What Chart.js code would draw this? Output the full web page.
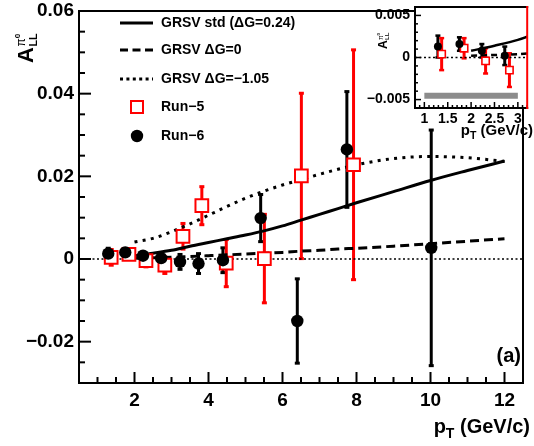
<!DOCTYPE html>
<html>
<head>
<meta charset="utf-8">
<script src="https://cdn.jsdelivr.net/npm/chart.js@4/dist/chart.umd.min.js"></script>
<style>
html,body{margin:0;padding:0;background:#fff;}
#wrap{position:relative;width:534px;height:446px;overflow:hidden;}
#main{position:absolute;left:0;top:0;}
#inset{position:absolute;left:340px;top:0;}
</style>
</head>
<body>
<div id="wrap">
<canvas id="main" width="534" height="446" style="width:534px;height:446px"></canvas>
<canvas id="inset" width="194" height="146" style="width:194px;height:146px"></canvas>
</div>
<script>
// ---------------- data ----------------
const run6Pt  = [1.29, 1.75, 2.23, 2.72, 3.23, 3.73, 4.39, 5.41, 6.40, 7.74, 10.02];
const run6ALL = [0.0013, 0.0016, 0.0008, 0.0002, -0.0007, -0.0011, -0.0003, 0.0099, -0.0150, 0.0265, 0.0027];
const run6Err = [0.0013, 0.0008, 0.0008, 0.0011, 0.0018, 0.0024, 0.0030, 0.0057, 0.0102, 0.0140, 0.0285];

const run5Pt  = [1.37, 1.85, 2.31, 2.82, 3.31, 3.82, 4.48, 5.51, 6.51, 7.92];
const run5ALL = [0.0004, 0.0011, -0.0004, -0.0015, 0.0055, 0.0129, -0.0010, 0.0001, 0.0201, 0.0228];
const run5Err = [0.0019, 0.0012, 0.0015, 0.0020, 0.0031, 0.0046, 0.0057, 0.0107, 0.0200, 0.0278];

const curvePt   = [2, 2.5, 3, 3.5, 4, 4.5, 5, 5.5, 6, 6.5, 7, 7.5, 8, 9, 10, 11, 12];
const stdALL    = [0.0008, 0.0014, 0.0021, 0.0031, 0.0040, 0.0049, 0.0058, 0.0068, 0.0080, 0.0094, 0.0108, 0.0122, 0.0136, 0.0163, 0.0190, 0.0214, 0.0237];
const dg0ALL    = [0.0002, 0.0003, 0.0004, 0.0006, 0.0008, 0.0010, 0.0012, 0.0014, 0.0016, 0.0019, 0.0021, 0.0024, 0.0026, 0.0031, 0.0037, 0.0043, 0.0049];
const dgNegALL  = [0.0041, 0.0050, 0.0066, 0.0085, 0.0106, 0.0127, 0.0147, 0.0164, 0.0179, 0.0192, 0.0205, 0.0217, 0.0228, 0.0243, 0.0248, 0.0245, 0.0236];

const zeroLinePt  = [0.5, 12.5];
const zeroLineALL = [0, 0];

const xMajorTicks = [2, 4, 6, 8, 10, 12];
const xTickLabels = ['2', '4', '6', '8', '10', '12'];
const yMajorTicks = [-0.02, 0, 0.02, 0.04, 0.06];
const yTickLabels = ['\u22120.02', '0', '0.02', '0.04', '0.06'];

const legendLabels = ['GRSV std (\u0394G=0.24)', 'GRSV \u0394G=0', 'GRSV \u0394G=\u22121.05', 'Run\u22125', 'Run\u22126'];

// inset
const insetPtMax     = 3;
const insetXMajor    = [1, 1.5, 2, 2.5, 3];
const insetXLabels   = ['1', '1.5', '2', '2.5', '3'];
const insetYMajor    = [-0.005, 0, 0.005];
const insetYLabels   = ['\u22120.005', '0', '0.005'];
const insetZeroPt    = [0.8, 3.2];
const insetZeroALL   = [0, 0];
const sysBandPt      = [1, 3];
const sysBandALL     = [-0.00455, -0.00455];

// ---------------- helpers ----------------
const FONT = "'Liberation Sans', Arial, Helvetica, sans-serif";
const pts = (xs, ys) => xs.map((x, i) => ({x: x, y: ys[i]}));
const idxBelow = (xs, lim) => xs.map((x, i) => i).filter(i => xs[i] < lim);
const pick = (arr, idx) => idx.map(i => arr[i]);
const labelFor = (majors, labels) => v => {
  const i = majors.findIndex(m => Math.abs(m - v) < 1e-9);
  return i >= 0 ? labels[i] : '';
};

const errorBars = {
  id: 'errorBars',
  beforeDatasetsDraw(chart, args, o) {
    const {ctx, chartArea: a} = chart;
    const ys = chart.scales.y;
    ctx.save();
    ctx.beginPath(); ctx.rect(a.left, a.top, a.right - a.left, a.bottom - a.top); ctx.clip();
    chart.data.datasets.forEach((ds, i) => {
      if (!ds.errors) return;
      const meta = chart.getDatasetMeta(i);
      meta.data.forEach((el, j) => {
        const v = ds.data[j].y, e = ds.errors[j];
        const yt = ys.getPixelForValue(v + e), yb = ys.getPixelForValue(v - e);
        ctx.strokeStyle = ds.errColor; ctx.fillStyle = ds.errColor; ctx.lineWidth = o.lw;
        ctx.beginPath(); ctx.moveTo(el.x, yt); ctx.lineTo(el.x, yb); ctx.stroke();
        ctx.fillRect(el.x - o.capW / 2, yt - o.capH / 2, o.capW, o.capH);
        ctx.fillRect(el.x - o.capW / 2, yb - o.capH / 2, o.capW, o.capH);
      });
    });
    ctx.restore();
  }
};

const axesFrame = {
  id: 'axesFrame',
  beforeDraw(chart, args, o) {
    if (!o.fillArea) return;
    const {ctx, chartArea: a} = chart;
    ctx.save(); ctx.fillStyle = '#fff';
    ctx.fillRect(a.left, a.top, a.right - a.left, a.bottom - a.top);
    ctx.restore();
  },
  afterDraw(chart, args, o) {
    const {ctx, chartArea: a} = chart;
    const xs = chart.scales.x, ys = chart.scales.y;
    const isOn = (v, s) => Math.abs(v / s - Math.round(v / s)) < 1e-6;
    const isMaj = (v, arr) => arr.some(m => Math.abs(m - v) < 1e-9);
    ctx.save();
    ctx.strokeStyle = '#000'; ctx.lineWidth = o.tickW;
    xs.ticks.forEach(t => {
      if (!isOn(t.value, o.xStep)) return;
      const L = isMaj(t.value, o.xMajor) ? o.xMaj : o.xMin;
      const p = xs.getPixelForValue(t.value);
      ctx.beginPath(); ctx.moveTo(p, a.bottom); ctx.lineTo(p, a.bottom - L); ctx.stroke();
    });
    ys.ticks.forEach(t => {
      if (!isOn(t.value, o.yStep)) return;
      const L = isMaj(t.value, o.yMajor) ? o.yMaj : o.yMin;
      const p = ys.getPixelForValue(t.value);
      ctx.beginPath(); ctx.moveTo(a.left, p); ctx.lineTo(a.left + L, p); ctx.stroke();
    });
    ctx.lineWidth = o.frameW;
    ctx.lineCap = 'square';
    ctx.beginPath();
    ctx.moveTo(a.right, a.top); ctx.lineTo(a.left, a.top); ctx.lineTo(a.left, a.bottom); ctx.lineTo(a.right, a.bottom);
    ctx.stroke();
    ctx.strokeStyle = o.rightColor;
    ctx.beginPath(); ctx.moveTo(a.right, a.top); ctx.lineTo(a.right, a.bottom); ctx.stroke();
    ctx.restore();
  }
};

function yTitle(ctx, cx, cy, s) {
  ctx.save();
  ctx.translate(cx, cy); ctx.rotate(-Math.PI / 2);
  ctx.fillStyle = '#000'; ctx.textAlign = 'left'; ctx.textBaseline = 'alphabetic';
  ctx.font = 'bold ' + (22 * s) + 'px ' + FONT;
  ctx.fillText('A', 0, 0);
  const w = ctx.measureText('A').width + 0.5 * s;
  ctx.font = 'bold ' + (11 * s) + 'px ' + FONT;
  ctx.fillText('LL', w, 3.7 * s);
  ctx.font = (12 * s) + 'px ' + FONT;
  ctx.fillText('\u03c0', w, -8 * s);
  const wp = ctx.measureText('\u03c0').width;
  ctx.font = 'bold ' + (8 * s) + 'px ' + FONT;
  ctx.fillText('0', w + wp, -13.5 * s);
  ctx.restore();
}

function xTitle(ctx, right, base, size) {
  ctx.save();
  ctx.fillStyle = '#000'; ctx.textAlign = 'left'; ctx.textBaseline = 'alphabetic';
  const sub = size * 0.7;
  ctx.font = 'bold ' + size + 'px ' + FONT;
  const wp = ctx.measureText('p').width, wr = ctx.measureText(' (GeV/c)').width;
  ctx.font = 'bold ' + sub + 'px ' + FONT;
  const wt = ctx.measureText('T').width;
  let x = right - (wp + wt + wr);
  ctx.font = 'bold ' + size + 'px ' + FONT;
  ctx.fillText('p', x, base);
  ctx.font = 'bold ' + sub + 'px ' + FONT;
  ctx.fillText('T', x + wp, base + size * 0.27);
  ctx.font = 'bold ' + size + 'px ' + FONT;
  ctx.fillText(' (GeV/c)', x + wp + wt, base);
  ctx.restore();
}

const mainDecor = {
  id: 'mainDecor',
  afterDraw(chart) {
    const ctx = chart.ctx;
    yTitle(ctx, 33, 63, 1);
    xTitle(ctx, 530, 433, 20);
    ctx.save();
    ctx.fillStyle = '#000';
    ctx.font = 'bold 20px ' + FONT; ctx.textAlign = 'right'; ctx.textBaseline = 'alphabetic';
    ctx.fillText('(a)', 521, 362);
    // legend
    const rowsY = [23, 50, 79, 107, 136];
    const lx0 = 120, lx1 = 153, tx = 161;
    ctx.strokeStyle = '#000'; ctx.lineWidth = 3; ctx.lineCap = 'butt';
    const dashes = [[], [8, 4.5], [3, 3.4]];
    for (let k = 0; k < 3; k++) {
      ctx.setLineDash(dashes[k]);
      ctx.beginPath(); ctx.moveTo(lx0, rowsY[k]); ctx.lineTo(lx1, rowsY[k]); ctx.stroke();
    }
    ctx.setLineDash([]);
    ctx.fillStyle = '#fff'; ctx.strokeStyle = '#ff0000'; ctx.lineWidth = 2;
    ctx.fillRect(131, rowsY[3] - 6, 12, 12); ctx.strokeRect(131, rowsY[3] - 6, 12, 12);
    ctx.fillStyle = '#000';
    ctx.beginPath(); ctx.arc(137, rowsY[4], 6.2, 0, Math.PI * 2); ctx.fill();
    ctx.font = 'bold 14px ' + FONT; ctx.textAlign = 'left'; ctx.textBaseline = 'middle';
    legendLabels.forEach((t, k) => ctx.fillText(t, tx, rowsY[k]));
    ctx.restore();
  }
};

const insetDecor = {
  id: 'insetDecor',
  afterDraw(chart) {
    const ctx = chart.ctx;
    yTitle(ctx, 47, 49, 0.55);
    xTitle(ctx, 193, 135, 15);
  }
};

// ---------------- main chart ----------------
const tickFont = {family: FONT, size: 19, weight: 'bold'};
new Chart(document.getElementById('main'), {
  type: 'scatter',
  data: {
    datasets: [
      {label: legendLabels[4], data: pts(run6Pt, run6ALL), errors: run6Err, errColor: '#000',
       pointStyle: 'circle', pointRadius: 6.2, pointBackgroundColor: '#000', pointBorderColor: '#000',
       pointBorderWidth: 0, backgroundColor: '#000', borderColor: '#000', showLine: false, order: 0},
      {label: legendLabels[3], data: pts(run5Pt, run5ALL), errors: run5Err, errColor: '#ff0000',
       pointStyle: 'rect', pointRadius: 9, pointBackgroundColor: '#fff', pointBorderColor: '#ff0000',
       pointBorderWidth: 2, backgroundColor: '#fff', borderColor: '#ff0000', showLine: false, order: 1},
      {label: legendLabels[0], data: pts(curvePt, stdALL), showLine: true, borderColor: '#000', borderWidth: 3,
       pointRadius: 0, cubicInterpolationMode: 'monotone', order: 3},
      {label: legendLabels[1], data: pts(curvePt, dg0ALL), showLine: true, borderColor: '#000', borderWidth: 3,
       borderDash: [9, 5], pointRadius: 0, cubicInterpolationMode: 'monotone', order: 4},
      {label: legendLabels[2], data: pts(curvePt, dgNegALL), showLine: true, borderColor: '#000', borderWidth: 3,
       borderDash: [3, 5.3], pointRadius: 0, cubicInterpolationMode: 'monotone', order: 5},
      {label: 'zero', data: pts(zeroLinePt, zeroLineALL), showLine: true, borderColor: '#000', borderWidth: 1.6,
       borderDash: [2, 2.5], pointRadius: 0, order: 6}
    ]
  },
  options: {
    responsive: false, animation: false, devicePixelRatio: 1,
    layout: {padding: {left: 0, right: 2, top: 8, bottom: 0}},
    scales: {
      x: {type: 'linear', min: 0.5, max: 12.5,
          grid: {display: false, drawTicks: false}, border: {display: false},
          ticks: {stepSize: 0.5, autoSkip: false, maxRotation: 0, padding: 6, color: '#000', font: tickFont,
                  callback: labelFor(xMajorTicks, xTickLabels)},
          afterFit: s => { s.height = 63; s.paddingLeft = 0; s.paddingRight = 0; }},
      y: {type: 'linear', min: -0.03, max: 0.06,
          grid: {display: false, drawTicks: false}, border: {display: false},
          ticks: {stepSize: 0.005, autoSkip: false, padding: 5, color: '#000', font: tickFont,
                  callback: labelFor(yMajorTicks, yTickLabels)},
          afterFit: s => { s.width = 79; s.paddingTop = 0; s.paddingBottom = 0; }}
    },
    plugins: {
      legend: {display: false}, tooltip: {enabled: false},
      errorBars: {lw: 3, capW: 5, capH: 3},
      axesFrame: {fillArea: false, tickW: 2, frameW: 2, rightColor: '#000',
                  xStep: 0.5, xMajor: xMajorTicks, xMaj: 11, xMin: 6,
                  yStep: 0.005, yMajor: yMajorTicks, yMaj: 12, yMin: 6}
    }
  },
  plugins: [errorBars, axesFrame, mainDecor]
});

// ---------------- inset chart ----------------
const i6 = idxBelow(run6Pt, insetPtMax), i5 = idxBelow(run5Pt, insetPtMax);
const insetTickFont = {family: FONT, size: 14, weight: 'bold'};
new Chart(document.getElementById('inset'), {
  type: 'scatter',
  data: {
    datasets: [
      {label: 'Run-6', data: pts(pick(run6Pt, i6), pick(run6ALL, i6)), errors: pick(run6Err, i6), errColor: '#000',
       pointStyle: 'circle', pointRadius: 4, pointBackgroundColor: '#000', pointBorderColor: '#000',
       pointBorderWidth: 0, showLine: false, order: 0},
      {label: 'Run-5', data: pts(pick(run5Pt, i5), pick(run5ALL, i5)), errors: pick(run5Err, i5), errColor: '#ff0000',
       pointStyle: 'rect', pointRadius: 5.2, pointBackgroundColor: '#fff', pointBorderColor: '#ff0000',
       pointBorderWidth: 1.6, showLine: false, order: 1},
      {label: 'std', data: pts(curvePt, stdALL), showLine: true, borderColor: '#000', borderWidth: 2.5,
       pointRadius: 0, cubicInterpolationMode: 'monotone', order: 3},
      {label: 'dg0', data: pts(curvePt, dg0ALL), showLine: true, borderColor: '#000', borderWidth: 2.5,
       borderDash: [6, 4], pointRadius: 0, cubicInterpolationMode: 'monotone', order: 4},
      {label: 'zero', data: pts(insetZeroPt, insetZeroALL), showLine: true, borderColor: '#000', borderWidth: 1.5,
       borderDash: [2, 2.5], pointRadius: 0, order: 6},
      {label: 'sys', data: pts(sysBandPt, sysBandALL), showLine: true, borderColor: '#8c8c8c', borderWidth: 6,
       borderCapStyle: 'butt', pointRadius: 0, order: 7}
    ]
  },
  options: {
    responsive: false, animation: false, devicePixelRatio: 1,
    layout: {padding: {left: 0, right: 2, top: 7, bottom: 0}},
    scales: {
      x: {type: 'linear', min: 0.8, max: 3.2,
          grid: {display: false, drawTicks: false}, border: {display: false},
          ticks: {stepSize: 0.1, autoSkip: false, maxRotation: 0, padding: 3, color: '#000', font: insetTickFont,
                  callback: labelFor(insetXMajor, insetXLabels)},
          afterFit: s => { s.height = 38; s.paddingLeft = 0; s.paddingRight = 0; }},
      y: {type: 'linear', min: -0.006, max: 0.006,
          grid: {display: false, drawTicks: false}, border: {display: false},
          ticks: {stepSize: 0.001, autoSkip: false, padding: 5, color: '#000', font: insetTickFont,
                  callback: labelFor(insetYMajor, insetYLabels)},
          afterFit: s => { s.width = 75; s.paddingTop = 0; s.paddingBottom = 0; }}
    },
    plugins: {
      legend: {display: false}, tooltip: {enabled: false},
      errorBars: {lw: 3, capW: 5, capH: 2.5},
      axesFrame: {fillArea: true, tickW: 1.5, frameW: 2, rightColor: '#ff0000',
                  xStep: 0.1, xMajor: insetXMajor, xMaj: 6, xMin: 3,
                  yStep: 0.001, yMajor: insetYMajor, yMaj: 6, yMin: 3}
    }
  },
  plugins: [errorBars, axesFrame, insetDecor]
});
</script>
</body>
</html>
